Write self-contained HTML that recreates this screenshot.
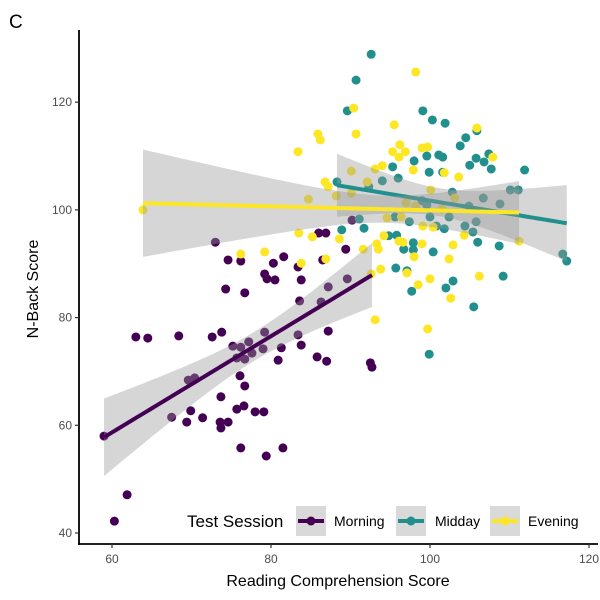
<!DOCTYPE html>
<html><head><meta charset="utf-8"><style>
body{margin:0;background:#fff;}
svg{display:block;font-family:"Liberation Sans",sans-serif;}
</style></head><body>
<svg id="chart" width="600" height="600" viewBox="0 0 600 600">
<text x="9" y="28" font-size="19" fill="#000">C</text>
<g id="points"></g>
<g id="smooth"></g>
<g id="axes"></g>
<text x="338" y="586" font-size="16" text-anchor="middle" fill="#000">Reading Comprehension Score</text>
<text transform="translate(38,289) rotate(-90)" font-size="16" text-anchor="middle" fill="#000">N-Back Score</text>
<g id="legend">
<text x="187" y="527" font-size="17" fill="#000">Test Session</text>
</g>
</svg>
<script>
const groups = ["Morning","Midday","Evening"];
const colors = ["#440154","#21908C","#FDE725"];
const morningX = [73.0,74.6,76.2,80.3,81.6,79.2,79.5,80.5,83.8,83.4,86.5,86.0,86.9,89.4,90.2,74.3,76.7,83.6,86.3,87.2,89.6,63.0,64.5,68.4,72.6,73.8,75.2,76.2,77.2,77.6,75.7,76.7,79.0,79.2,81.3,80.9,83.4,83.8,87.2,85.8,87.0,92.5,92.7,76.1,76.7,73.7,69.6,70.4,67.5,69.9,69.4,71.4,73.6,74.6,73.7,75.7,76.6,78.0,79.1,76.2,79.4,81.5,59.0,61.9,60.3];
const morningY = [94.0,90.7,90.5,90.1,91.3,88.1,87.2,87.0,87.0,89.4,90.7,95.7,95.7,92.7,98.1,85.3,84.6,83.1,82.9,85.7,87.2,76.4,76.2,76.6,76.4,77.3,74.7,74.5,75.5,73.4,72.5,72.3,74.2,77.3,74.4,72.1,76.8,74.9,77.5,72.7,71.9,71.6,70.8,69.2,67.3,65.3,68.4,68.8,61.5,62.7,60.6,61.4,60.6,60.6,59.5,63.0,63.6,62.5,62.5,55.8,54.3,55.8,58.0,47.1,42.2];
const middayX = [92.6,90.7,89.6,99.1,100.3,101.9,103.8,104.5,105.9,98.0,99.6,101.1,101.6,105.0,105.8,106.8,107.4,107.7,111.9,95.3,99.9,101.6,96.0,88.3,94.0,92.3,102.8,99.0,99.6,106.7,108.8,110.1,111.1,104.9,95.6,97.4,100.0,102.4,100.8,101.8,104.4,105.8,105.4,91.1,91.7,88.9,94.8,95.8,97.9,96.7,97.9,100.4,106.0,108.7,116.7,117.2,95.7,97.1,102.9,102.0,97.7,109.2,105.5,99.9];
const middayY = [128.9,124.1,118.4,118.4,116.7,116.1,111.9,113.4,114.7,109.1,110.0,110.2,109.8,108.3,109.6,108.9,110.4,107.6,107.4,108.0,107.0,107.0,105.9,105.2,105.4,104.3,103.3,101.7,100.9,102.2,101.1,103.7,103.7,100.7,98.7,97.8,98.7,98.7,97.0,96.5,97.0,97.8,95.9,98.3,96.6,96.3,95.2,95.3,93.9,92.7,92.6,92.2,94.0,93.3,91.8,90.5,89.2,88.7,86.8,85.5,84.9,87.7,82.0,73.2];
const eveningX = [98.2,90.4,95.5,85.9,86.2,90.7,83.4,96.2,95.3,96.9,96.1,99.0,99.7,105.9,107.9,93.1,94.0,97.9,101.8,103.6,90.1,86.8,87.2,92.1,100.1,90.1,84.7,88.2,97.0,98.2,103.1,101.5,94.6,96.4,99.1,100.4,83.5,85.2,88.6,94.2,96.1,96.6,93.3,93.5,99.0,102.9,104.3,111.2,91.6,98.0,102.4,83.8,86.9,93.8,97.1,100.0,98.5,106.2,102.6,93.1,99.7,92.6,76.2,79.2,63.9];
const eveningY = [125.6,118.9,115.8,114.1,113.0,114.1,110.8,112.1,110.8,110.8,109.8,111.5,111.7,115.2,109.8,107.6,108.2,107.4,106.9,106.1,107.2,105.2,104.3,105.2,103.7,103.1,102.0,102.6,101.3,100.7,102.2,100.2,98.5,98.7,97.0,96.8,95.7,95.0,94.6,95.2,94.2,94.0,93.7,92.7,93.7,93.5,95.3,94.2,92.7,91.3,90.9,90.1,90.9,89.0,88.3,87.2,86.1,87.7,83.6,79.6,77.9,88.1,91.8,92.2,100.0];
const xTicks = [60,80,100,120];
const yTicks = [40,60,80,100,120];

const NS="http://www.w3.org/2000/svg";
const sx = v => 112 + (v-60)*7.95;
const sy = v => 533 - (v-40)*5.385;
const mk = (tag, attrs, parent) => { const e=document.createElementNS(NS,tag); for(const k in attrs) e.setAttribute(k,attrs[k]); parent.appendChild(e); return e; };

const seriesX=[morningX,middayX,eveningX], seriesY=[morningY,middayY,eveningY];
const pts=document.getElementById('points'), sm=document.getElementById('smooth'), ax=document.getElementById('axes'), lg=document.getElementById('legend');

seriesX.forEach((xs,g)=>{
  xs.forEach((x,i)=>{
    const c=mk('circle',{cx:sx(x),cy:sy(seriesY[g][i]),r:4.5,fill:colors[g]},pts);
    
    
  });
});

// linear fits with 95% CI
seriesX.forEach((xs,g)=>{
  const ys=seriesY[g], n=xs.length;
  const mx=xs.reduce((a,b)=>a+b)/n, my=ys.reduce((a,b)=>a+b)/n;
  let sxx=0,sxy=0; xs.forEach((x,i)=>{sxx+=(x-mx)**2; sxy+=(x-mx)*(ys[i]-my);});
  const b=sxy/sxx, a=my-b*mx;
  let sse=0; xs.forEach((x,i)=>{sse+=(ys[i]-a-b*x)**2;});
  const s=Math.sqrt(sse/(n-2)), t=2.0;
  const x0=Math.min(...xs), x1=Math.max(...xs);
  const up=[],lo=[],ln=[];
  for(let k=0;k<=40;k++){
    const x=x0+(x1-x0)*k/40, y=a+b*x, se=s*Math.sqrt(1/n+(x-mx)**2/sxx);
    up.push(sx(x)+','+sy(y+t*se)); lo.unshift(sx(x)+','+sy(y-t*se)); ln.push(sx(x)+','+sy(y));
  }
  const r=mk('polygon',{points:up.concat(lo).join(' '),fill:'#999999','fill-opacity':0.4},sm);
  
  
  const l=mk('polyline',{points:ln.join(' '),fill:'none',stroke:colors[g],'stroke-width':4},sm);
  
  
});

// axes
const yl=mk('line',{x1:79,y1:30,x2:79,y2:545,stroke:'#000','stroke-width':1.8},ax);


const xl=mk('line',{x1:78,y1:544,x2:598,y2:544,stroke:'#000','stroke-width':1.8},ax);


xTicks.forEach(v=>{
  mk('line',{x1:sx(v),y1:544,x2:sx(v),y2:548,stroke:'#333','stroke-width':1.2},ax);
  const t=mk('text',{x:sx(v),y:563,'font-size':12,'text-anchor':'middle',fill:'#4d4d4d'},ax);
  t.textContent=v;
  
  
});
yTicks.forEach(v=>{
  mk('line',{x1:75,y1:sy(v),x2:79,y2:sy(v),stroke:'#333','stroke-width':1.2},ax);
  const t=mk('text',{x:72,y:sy(v)+4,'font-size':12,'text-anchor':'end',fill:'#4d4d4d'},ax);
  t.textContent=v;
  
  
});

// legend
const keyX=[296,396,490], labX=[334,435,528];
groups.forEach((gname,g)=>{
  const gg=mk('g',{},lg);
  
  
  mk('rect',{x:keyX[g],y:506,width:30,height:30,fill:'#d9d9d9'},gg);
  mk('line',{x1:keyX[g]+2,y1:521,x2:keyX[g]+28,y2:521,stroke:colors[g],'stroke-width':4},gg);
  mk('circle',{cx:keyX[g]+15,cy:521,r:4.5,fill:colors[g]},gg);
  const t=mk('text',{x:labX[g],y:526,'font-size':14,fill:'#000'},gg);
  t.textContent=gname;
});
</script>
</body></html>
